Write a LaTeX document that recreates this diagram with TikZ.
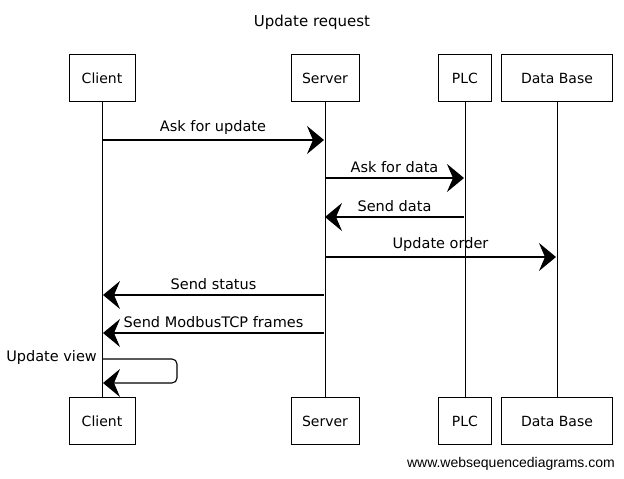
\documentclass[tikz,border=0pt]{standalone}
\usepackage{fontspec}
\setmainfont{DejaVu Sans}
\newfontfamily\footfont{Liberation Sans}
\usetikzlibrary{arrows.meta}
\begin{document}
\begin{tikzpicture}[x=1pt,y=-1pt,
  actor/.style={draw=black,line width=0.9pt,minimum height=47pt,inner sep=0pt,font=\fontsize{14}{16}\selectfont},
  life/.style={draw=black,line width=0.7pt},
  msg/.style={draw=black,line width=1.1pt,-{Stealth[length=17pt,width=28pt,inset=6pt]}},
  lbl/.style={font=\fontsize{14.5}{16}\selectfont,inner sep=0pt}]
\useasboundingbox (0,0) rectangle (624,479);
\node[font=\fontsize{15}{17}\selectfont] (title) at (312,22) {Update request};
% top actors
\node[actor,minimum width=66pt] (ct) at (102,78) {Client};
\node[actor,minimum width=68pt] (st) at (325,78) {Server};
\node[actor,minimum width=53pt] (pt) at (465,78) {PLC};
\node[actor,minimum width=111pt] (dt) at (557,78) {Data Base};
% bottom actors
\node[actor,minimum width=66pt] (cb) at (102,421) {Client};
\node[actor,minimum width=68pt] (sb) at (325,421) {Server};
\node[actor,minimum width=53pt] (pb) at (465,421) {PLC};
\node[actor,minimum width=111pt] (db) at (557,421) {Data Base};
% lifelines
\draw[life] (ct.south) -- (cb.north);
\draw[life] (st.south) -- (sb.north);
\draw[life] (pt.south) -- (pb.north);
\draw[life] (dt.south) -- (db.north);
% message endpoints
\coordinate (c1) at (102,140); \coordinate (s1) at (324,140);
\coordinate (s2) at (325,178); \coordinate (p2) at (464,178);
\coordinate (p3) at (464,217); \coordinate (s3) at (325,217);
\coordinate (s4) at (325,257); \coordinate (d4) at (556,257);
\coordinate (s5) at (324,295); \coordinate (c5) at (103,295);
\coordinate (s6) at (324,333); \coordinate (c6) at (103,333);
\coordinate (c7) at (103,359); \coordinate (c8) at (103,383);
\draw[msg] (c1) -- node[lbl,above=5pt] {Ask for update} (s1);
\draw[msg] (s2) -- node[lbl,above=5pt] {Ask for data} (p2);
\draw[msg] (p3) -- node[lbl,above=5pt] {Send data} (s3);
\draw[msg] (s4) -- node[lbl,above=5pt] {Update order} (d4);
\draw[msg] (s5) -- node[lbl,above=5pt] {Send status} (c5);
\draw[msg] (s6) -- node[lbl,above=5pt] {Send ModbusTCP frames} (c6);
\draw[msg,rounded corners=5pt] (c7) -- (177,359) -- (177,383) -- (c8);
\node[lbl,anchor=south east] (uv) at (97,365) {Update view};
\node[font=\footfont\fontsize{14}{16}\selectfont,anchor=east,inner sep=0pt] (foot) at (615,464) {www.websequencediagrams.com};
\end{tikzpicture}
\end{document}
